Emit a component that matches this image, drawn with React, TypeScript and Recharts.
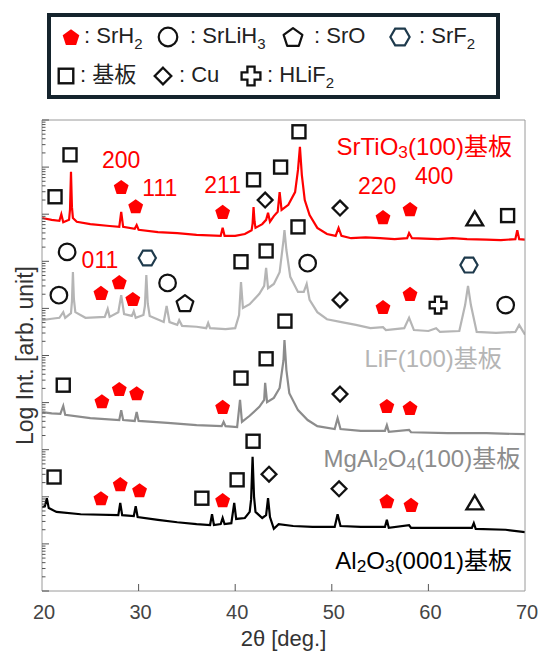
import { ComposedChart, Line, Scatter, XAxis, YAxis } from 'recharts'

type Pt = [number, number]

const FONT = '"Liberation Sans", Arial, "Noto Sans CJK JP", sans-serif'

// 2θ ticks, log-intensity decades
const xTicks = [20, 30, 40, 50, 60, 70]
const yMajor = [0, 1, 2, 3, 4, 5, 6, 7, 8, 9, 10]
const yTicks = [
  ...yMajor,
  ...yMajor.slice(0, 10).flatMap((n) => [2, 3, 4, 5, 6, 7, 8, 9].map((k) => n + Math.log10(k))),
]

// traces: [2θ, log intensity]
const srtio3: Pt[] = [
  [20.0, 7.92], [21.0, 7.88], [21.8, 7.86], [22.0, 8.0], [22.2, 7.83], [22.8, 7.88], [22.9, 8.1], [23.0, 8.9],
  [23.1, 8.15], [23.2, 7.92], [23.6, 7.84], [25.0, 7.79], [27.0, 7.75], [28.0, 7.73], [28.2, 8.05], [28.4, 7.73],
  [29.6, 7.69], [29.8, 7.77], [30.0, 7.67], [32.0, 7.62], [34.0, 7.6], [36.0, 7.56], [38.5, 7.54], [38.7, 7.71],
  [38.9, 7.54], [40.0, 7.54], [41.0, 7.58], [41.7, 7.66], [41.8, 7.8], [41.9, 8.15], [42.0, 7.85], [42.1, 7.71],
  [42.8, 7.79], [43.2, 7.88], [43.4, 8.03], [43.6, 7.84], [44.0, 7.96], [44.4, 8.05], [44.6, 8.47], [44.8, 8.09],
  [45.5, 8.2], [46.2, 8.47], [46.5, 8.94], [46.7, 9.43], [46.9, 8.83], [47.2, 8.3], [47.7, 7.98], [48.5, 7.71],
  [49.5, 7.58], [50.4, 7.54], [50.7, 7.71], [51.0, 7.54], [52.0, 7.49], [53.5, 7.51], [55.0, 7.49], [56.5, 7.47],
  [57.8, 7.49], [58.0, 7.6], [58.3, 7.49], [61.0, 7.47], [62.5, 7.49], [64.0, 7.47], [66.0, 7.46], [67.5, 7.45],
  [69.0, 7.47], [69.2, 7.66], [69.4, 7.47], [70.0, 7.46],
]

const lif: Pt[] = [
  [20.0, 5.75], [21.0, 5.78], [21.8, 5.8], [22.2, 5.92], [22.4, 5.8], [23.0, 5.9], [23.1, 6.15], [23.2, 6.77],
  [23.3, 6.2], [23.45, 5.92], [24.5, 5.8], [26.5, 5.82], [26.8, 5.99], [27.0, 5.82], [27.9, 5.92], [28.2, 6.28],
  [28.5, 5.88], [29.3, 5.84], [29.5, 5.94], [29.7, 5.8], [30.5, 5.86], [30.65, 6.05], [30.8, 6.71], [30.95, 6.1],
  [31.15, 5.84], [32.6, 5.71], [32.9, 6.05], [33.2, 5.71], [34.0, 5.65], [34.2, 5.75], [34.5, 5.63], [36.0, 5.61],
  [37.0, 5.58], [37.2, 5.69], [37.4, 5.58], [39.0, 5.56], [40.0, 5.58], [40.4, 5.86], [40.6, 6.56], [40.8, 6.01],
  [41.5, 6.09], [42.5, 6.31], [43.0, 6.48], [43.2, 6.86], [43.4, 6.43], [44.0, 6.52], [44.6, 6.77], [45.0, 7.45],
  [45.1, 7.66], [45.3, 7.24], [45.7, 6.67], [46.5, 6.35], [47.1, 6.35], [47.4, 6.52], [47.7, 6.18], [48.5, 5.92],
  [49.5, 5.77], [51.0, 5.71], [52.5, 5.65], [54.0, 5.58], [55.3, 5.6], [55.6, 5.54], [57.5, 5.58], [58.0, 5.8],
  [58.5, 5.54], [60.0, 5.52], [60.8, 5.58], [61.2, 5.5], [63.2, 5.52], [63.8, 6.07], [64.1, 6.48], [64.4, 6.07],
  [65.0, 5.5], [67.0, 5.48], [69.0, 5.5], [69.4, 5.65], [70.0, 5.44],
]

const mgal2o4: Pt[] = [
  [20.0, 3.8], [21.0, 3.77], [21.9, 3.76], [22.2, 3.93], [22.4, 3.74], [25.0, 3.67], [28.0, 3.63], [28.2, 3.84],
  [28.4, 3.63], [29.6, 3.61], [29.8, 3.8], [30.0, 3.61], [33.0, 3.57], [36.0, 3.52], [38.6, 3.5], [38.8, 3.59],
  [39.0, 3.5], [40.2, 3.48], [40.5, 4.06], [40.7, 3.59], [41.5, 3.72], [42.5, 3.91], [43.0, 4.06], [43.1, 4.42],
  [43.3, 4.01], [44.0, 4.1], [44.6, 4.31], [45.0, 4.9], [45.1, 5.33], [45.3, 4.69], [45.6, 4.2], [46.5, 3.84],
  [47.5, 3.63], [48.5, 3.5], [50.3, 3.44], [50.6, 3.67], [50.9, 3.44], [53.0, 3.4], [55.5, 3.4], [55.7, 3.52],
  [55.9, 3.38], [58.0, 3.42], [58.2, 3.37], [62.0, 3.35], [66.0, 3.35], [70.0, 3.33],
]

const al2o3: Pt[] = [
  [20.0, 1.78], [20.3, 1.8], [20.5, 1.97], [20.7, 1.76], [21.5, 1.68], [24.0, 1.63], [27.9, 1.61], [28.1, 1.87],
  [28.3, 1.61], [29.5, 1.59], [29.7, 1.8], [29.9, 1.57], [32.0, 1.51], [34.0, 1.46], [36.0, 1.42], [37.4, 1.4],
  [37.6, 1.63], [37.8, 1.4], [38.5, 1.42], [38.7, 1.55], [38.9, 1.42], [39.6, 1.44], [39.9, 1.87], [40.1, 1.53],
  [41.0, 1.55], [41.5, 1.68], [41.65, 1.95], [41.8, 2.85], [41.95, 2.0], [42.1, 1.68], [42.8, 1.55], [43.2, 1.61],
  [43.4, 1.97], [43.6, 1.57], [44.0, 1.32], [44.5, 1.42], [46.0, 1.38], [48.0, 1.36], [50.3, 1.36], [50.6, 1.63],
  [50.9, 1.38], [53.0, 1.36], [55.5, 1.36], [55.7, 1.51], [55.9, 1.34], [58.0, 1.4], [58.2, 1.34], [61.0, 1.34],
  [64.5, 1.34], [64.7, 1.44], [64.9, 1.32], [68.0, 1.3], [70.0, 1.25],
]

// phase markers
const srh2Marks: Pt[] = [
  [28.2, 8.58], [29.7, 8.17], [38.7, 8.05], [55.3, 7.94], [58.1, 8.11],
  [26.1, 6.33], [28.0, 6.56], [29.4, 6.2], [55.3, 6.03], [58.1, 6.31],
  [26.2, 4.03], [28.0, 4.29], [29.8, 4.2], [38.7, 3.91], [55.7, 3.93], [58.1, 3.89],
  [26.1, 1.97], [28.1, 2.27], [30.1, 2.14], [38.7, 1.93], [55.7, 1.91], [58.2, 1.83],
]
const srlih3Marks: Pt[] = [[21.75, 6.28], [22.6, 7.2], [33.0, 6.54], [47.5, 6.96], [68.0, 6.07]]
const sroMarks: Pt[] = [[34.8, 6.11]]
const srf2Marks: Pt[] = [[30.9, 7.07], [64.2, 6.92]]
const substrateMarks: Pt[] = [
  [21.35, 8.37], [22.9, 9.26], [41.9, 8.73], [44.7, 9.0], [46.6, 9.75], [68.2, 7.97],
  [40.6, 6.99], [43.2, 7.22], [46.5, 7.73],
  [22.2, 4.37], [40.6, 4.52], [43.2, 4.93], [45.15, 5.73],
  [21.25, 2.42], [36.55, 1.97], [40.2, 2.36], [41.85, 3.18],
]
const cuMarks: Pt[] = [[43.1, 8.3], [50.85, 8.13], [50.85, 6.18], [50.85, 4.18], [43.5, 2.48], [50.75, 2.17]]
const hlif2Marks: Pt[] = [[61.0, 6.07]]
const unknownMarks: Pt[] = [[64.8, 7.9], [64.8, 1.87]]

const hklLabels = [
  { t: 28.2, v: 9.15, text: '200' },
  { t: 32.2, v: 8.56, text: '111' },
  { t: 38.7, v: 8.62, text: '211' },
  { t: 54.7, v: 8.6, text: '220' },
  { t: 60.6, v: 8.81, text: '400' },
  { t: 26.0, v: 7.03, text: '011' },
]

const sampleLabels = [
  { t: 68.65, v: 9.45, text: 'SrTiO_3(100)基板' },
  { t: 67.6, v: 4.95, text: 'LiF(100)基板' },
  { t: 69.5, v: 2.82, text: 'MgAl_2O_4(100)基板' },
  { t: 68.65, v: 0.66, text: 'Al_2O_3(0001)基板' },
]
const sampleColors = ['#ff0000', '#b5b5b5', '#8c8c8c', '#000000']

const rows = (pts: Pt[]) => pts.map(([t, v]) => ({ t, v }))

function poly(cx: number, cy: number, r: number, n: number, rot: number) {
  return Array.from({ length: n }, (_, i) => {
    const a = ((rot + (i * 360) / n) * Math.PI) / 180
    return `${cx + r * Math.cos(a)},${cy + r * Math.sin(a)}`
  }).join(' ')
}

function Glyph({ kind, cx, cy, k = 1 }: { kind: string; cx: number; cy: number; k?: number }) {
  const ink = '#111'
  switch (kind) {
    case 'srh2':
      return <polygon points={poly(cx, cy + 0.8 * k, 7.8 * k, 5, -90)} fill="#ff0000" />
    case 'srlih3':
      return <circle cx={cx} cy={cy} r={8.3 * k} fill="none" stroke={ink} strokeWidth={2.2} />
    case 'sro':
      return (
        <polygon points={poly(cx, cy + 0.8 * k, 8.8 * k, 5, -90)} fill="none" stroke={ink} strokeWidth={2.2} strokeLinejoin="round" />
      )
    case 'srf2':
      return <polygon points={poly(cx, cy, 8.6 * k, 6, 0)} fill="none" stroke="#1e3a4c" strokeWidth={2.2} />
    case 'sub':
      return <rect x={cx - 6.5 * k} y={cy - 6.5 * k} width={13 * k} height={13 * k} fill="none" stroke={ink} strokeWidth={2.4} />
    case 'cu':
      return <polygon points={poly(cx, cy, 7.4 * k, 4, -90)} fill="none" stroke={ink} strokeWidth={2.3} />
    case 'hlif2': {
      const a = 3.2 * k
      const b = 8.4 * k
      const d = `M${cx - a},${cy - b}H${cx + a}V${cy - a}H${cx + b}V${cy + a}H${cx + a}V${cy + b}H${cx - a}V${cy + a}H${cx - b}V${cy - a}H${cx - a}Z`
      return <path d={d} fill="none" stroke={ink} strokeWidth={2.3} />
    }
    case 'tri':
      return (
        <polygon
          points={`${cx},${cy - 7.5 * k} ${cx + 8.3 * k},${cy + 6.5 * k} ${cx - 8.3 * k},${cy + 6.5 * k}`}
          fill="none"
          stroke={ink}
          strokeWidth={2.4}
        />
      )
    default:
      return null
  }
}

// "SrTiO_3" -> SrTiO with subscript 3
function rich(s: string) {
  const parts = s.split(/_(\d)/)
  return parts.map((p, i) =>
    i % 2 === 1 ? (
      <tspan key={i} dy={6} fontSize="0.72em">
        {p}
      </tspan>
    ) : (
      <tspan key={i} dy={i > 0 ? -6 : 0}>
        {p}
      </tspan>
    ),
  )
}

// eslint-disable-next-line @typescript-eslint/no-explicit-any
function BottomTick({ x, y, payload }: any) {
  const inner = payload.value > 20 && payload.value < 70
  return (
    <g>
      {inner && <line x1={x} x2={x} y1={y} y2={y - 7} stroke="#555" />}
      <text x={x + 2} y={y + 28} textAnchor="middle" fontSize={20} fill="#444">
        {payload.value}
      </text>
    </g>
  )
}

// eslint-disable-next-line @typescript-eslint/no-explicit-any
function TopTick({ x, y, payload }: any) {
  if (payload.value <= 20 || payload.value >= 70) return <g />
  return <line x1={x} x2={x} y1={y} y2={y + 7} stroke="#555" />
}

// eslint-disable-next-line @typescript-eslint/no-explicit-any
function LeftTick({ x, y, payload }: any) {
  const len = Number.isInteger(payload.value) ? 7 : 3.5
  return <line x1={x} x2={x + len} y1={y} y2={y} stroke="#555" />
}

// eslint-disable-next-line @typescript-eslint/no-explicit-any
function RightTick({ x, y, payload }: any) {
  const len = Number.isInteger(payload.value) ? 7 : 3.5
  return <line x1={x} x2={x - len} y1={y} y2={y} stroke="#555" />
}

const markSets: [string, Pt[]][] = [
  ['srh2', srh2Marks],
  ['srlih3', srlih3Marks],
  ['sro', sroMarks],
  ['srf2', srf2Marks],
  ['sub', substrateMarks],
  ['cu', cuMarks],
  ['hlif2', hlif2Marks],
  ['tri', unknownMarks],
]

const traces: [Pt[], string][] = [
  [srtio3, '#ff0000'],
  [lif, '#b5b5b5'],
  [mgal2o4, '#8c8c8c'],
  [al2o3, '#000000'],
]

function LegendItem({ kind, gx, tx, y, children }: { kind: string; gx: number; tx: number; y: number; children: React.ReactNode }) {
  return (
    <>
      <svg width={26} height={26} style={{ position: 'absolute', left: gx - 13, top: y - 13 }}>
        <Glyph kind={kind} cx={13} cy={13} k={1.12} />
      </svg>
      <div style={{ position: 'absolute', left: tx, top: y - 14, fontSize: 22, lineHeight: '26px', color: '#222', whiteSpace: 'nowrap' }}>
        {children}
      </div>
    </>
  )
}

const sub = (s: string) => <span style={{ fontSize: 15, position: 'relative', top: 6 }}>{s}</span>

function LegendBox() {
  return (
    <div
      style={{
        position: 'absolute',
        left: 47,
        top: 13,
        width: 453,
        height: 86,
        border: '4px solid #15242d',
        boxSizing: 'border-box',
      }}
    >
      <div style={{ position: 'absolute', left: -51, top: -17 }}>
        <LegendItem kind="srh2" gx={71} tx={84} y={37}>
          : SrH{sub('2')}
        </LegendItem>
        <LegendItem kind="srlih3" gx={168} tx={190} y={37}>
          : SrLiH{sub('3')}
        </LegendItem>
        <LegendItem kind="sro" gx={293} tx={314} y={37}>
          : SrO
        </LegendItem>
        <LegendItem kind="srf2" gx={400} tx={419} y={37}>
          : SrF{sub('2')}
        </LegendItem>
        <LegendItem kind="sub" gx={66} tx={80} y={76}>
          : 基板
        </LegendItem>
        <LegendItem kind="cu" gx={163} tx={179} y={76}>
          : Cu
        </LegendItem>
        <LegendItem kind="hlif2" gx={251} tx={267} y={76}>
          : HLiF{sub('2')}
        </LegendItem>
      </div>
    </div>
  )
}

export default function App() {
  return (
    <div style={{ position: 'relative', width: 539, height: 651, fontFamily: FONT, background: '#fff' }}>
      <style>{'body{margin:0}'}</style>
      <ComposedChart width={539} height={651} margin={{ top: 119, right: 0, bottom: 0, left: 0 }}>
        <XAxis
          xAxisId="b"
          dataKey="t"
          type="number"
          domain={[20, 70]}
          ticks={xTicks}
          interval={0}
          allowDataOverflow
          tickSize={0}
          tickMargin={0}
          tickLine={false}
          tick={<BottomTick />}
          axisLine={{ stroke: '#9a9a9a' }}
          height={60}
          label={{ value: '2θ [deg.]', position: 'insideBottom', offset: 5, fontSize: 22, fill: '#333' }}
        />
        <XAxis
          xAxisId="top"
          orientation="top"
          type="number"
          domain={[20, 70]}
          ticks={xTicks}
          interval={0}
          tickSize={0}
          tickMargin={0}
          tickLine={false}
          tick={<TopTick />}
          axisLine={{ stroke: '#9a9a9a' }}
          height={1}
        />
        <YAxis
          yAxisId="l"
          dataKey="v"
          type="number"
          domain={[0, 10]}
          ticks={yTicks}
          interval={0}
          allowDataOverflow
          tickSize={0}
          tickMargin={0}
          tickLine={false}
          tick={<LeftTick />}
          axisLine={{ stroke: '#9a9a9a' }}
          width={42}
          label={{
            value: 'Log Int. [arb. unit]',
            angle: -90,
            position: 'insideLeft',
            offset: 25,
            fontSize: 23,
            fill: '#333',
            style: { textAnchor: 'middle' },
          }}
        />
        <YAxis
          yAxisId="r"
          orientation="right"
          type="number"
          domain={[0, 10]}
          ticks={yTicks}
          interval={0}
          tickSize={0}
          tickMargin={0}
          tickLine={false}
          tick={<RightTick />}
          axisLine={{ stroke: '#9a9a9a' }}
          width={14}
        />
        {traces.map(([pts, color], i) => (
          <Line
            key={`trace-${i}`}
            xAxisId="b"
            yAxisId="l"
            data={rows(pts)}
            dataKey="v"
            type="linear"
            stroke={color}
            strokeWidth={2.2}
            dot={false}
            isAnimationActive={false}
          />
        ))}
        {markSets.map(([kind, pts]) => (
          <Scatter
            key={kind}
            xAxisId="b"
            yAxisId="l"
            data={rows(pts)}
            isAnimationActive={false}
            // eslint-disable-next-line @typescript-eslint/no-explicit-any
            shape={(p: any) => <Glyph kind={kind} cx={p.cx} cy={p.cy} />}
          />
        ))}
        <Scatter
          xAxisId="b"
          yAxisId="l"
          data={hklLabels}
          isAnimationActive={false}
          // eslint-disable-next-line @typescript-eslint/no-explicit-any
          shape={(p: any) => (
            <text x={p.cx} y={p.cy} textAnchor="middle" dominantBaseline="central" fontSize={23} fill="#ff0000">
              {p.payload.text}
            </text>
          )}
        />
        {sampleLabels.map((lab, i) => (
          <Scatter
            key={lab.text}
            xAxisId="b"
            yAxisId="l"
            data={[lab]}
            isAnimationActive={false}
            // eslint-disable-next-line @typescript-eslint/no-explicit-any
            shape={(p: any) => (
              <text x={p.cx} y={p.cy} textAnchor="end" dominantBaseline="central" fontSize={24} fill={sampleColors[i]}>
                {rich(p.payload.text)}
              </text>
            )}
          />
        ))}
      </ComposedChart>
      <LegendBox />
    </div>
  )
}
